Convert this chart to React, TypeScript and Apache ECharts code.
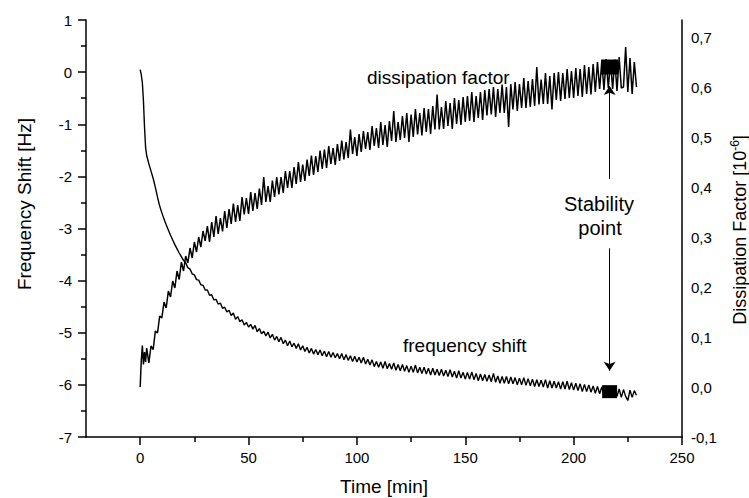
import React, { useEffect, useRef } from 'react';
import * as echarts from 'echarts';

// Sampling times [min]
const timeMin = [
  0, 0.5, 1, 1.5, 2, 2.5, 3,
  4, 5, 6, 7, 8, 9,
  10, 11, 12, 13, 14, 15, 16, 17, 18, 19,
  20, 21, 22, 23, 24, 25, 26, 27, 28, 29,
  30, 31, 32, 33, 34, 35, 36, 37, 38, 39,
  40, 41, 42, 43, 44, 45, 46, 47, 48, 49,
  50, 51, 52, 53, 54, 55, 56, 57, 58, 59,
  60, 61, 62, 63, 64, 65, 66, 67, 68, 69,
  70, 71, 72, 73, 74, 75, 76, 77, 78, 79,
  80, 81, 82, 83, 84, 85, 86, 87, 88, 89,
  90, 91, 92, 93, 94, 95, 96, 97, 98, 99,
  100, 101, 102, 103, 104, 105, 106, 107, 108, 109,
  110, 111, 112, 113, 114, 115, 116, 117, 118, 119,
  120, 121, 122, 123, 124, 125, 126, 127, 128, 129,
  130, 131, 132, 133, 134, 135, 136, 137, 138, 139,
  140, 141, 142, 143, 144, 145, 146, 147, 148, 149,
  150, 151, 152, 153, 154, 155, 156, 157, 158, 159,
  160, 161, 162, 163, 164, 165, 166, 167, 168, 169,
  170, 171, 172, 173, 174, 175, 176, 177, 178, 179,
  180, 181, 182, 183, 184, 185, 186, 187, 188, 189,
  190, 191, 192, 193, 194, 195, 196, 197, 198, 199,
  200, 201, 202, 203, 204, 205, 206, 207, 208, 209,
  210, 211, 212, 213, 214, 215, 216, 217, 218, 219,
  220, 221, 222, 223, 224, 225, 226, 227, 228, 229,
];

// Frequency shift [Hz] (left axis)
const frequencyShift = [
  0.05, -0.05, -0.20, -0.55, -1.05, -1.45, -1.60,
  -1.76, -1.90, -2.04, -2.21, -2.40, -2.57,
  -2.70, -2.82, -2.93, -3.03, -3.13, -3.22, -3.31, -3.39, -3.47, -3.54,
  -3.61, -3.66, -3.75, -3.78, -3.87, -3.89, -3.98, -3.99, -4.08, -4.09,
  -4.18, -4.18, -4.28, -4.27, -4.37, -4.36, -4.45, -4.43, -4.53, -4.51,
  -4.60, -4.57, -4.67, -4.62, -4.74, -4.69, -4.79, -4.75, -4.85, -4.80,
  -4.89, -4.84, -4.93, -4.86, -4.98, -4.92, -5.02, -4.97, -5.06, -4.99,
  -5.10, -5.03, -5.14, -5.07, -5.17, -5.09, -5.21, -5.14, -5.25, -5.16,
  -5.27, -5.20, -5.30, -5.21, -5.33, -5.25, -5.36, -5.28, -5.39, -5.30,
  -5.41, -5.32, -5.42, -5.33, -5.44, -5.35, -5.46, -5.36, -5.47, -5.38,
  -5.48, -5.40, -5.50, -5.40, -5.52, -5.42, -5.53, -5.44, -5.55, -5.45,
  -5.56, -5.47, -5.58, -5.47, -5.60, -5.51, -5.62, -5.52, -5.65, -5.55,
  -5.66, -5.56, -5.68, -5.55, -5.69, -5.59, -5.70, -5.58, -5.72, -5.61,
  -5.73, -5.61, -5.74, -5.63, -5.76, -5.64, -5.76, -5.62, -5.77, -5.66,
  -5.78, -5.66, -5.79, -5.68, -5.81, -5.68, -5.81, -5.70, -5.82, -5.70,
  -5.83, -5.72, -5.84, -5.71, -5.85, -5.74, -5.87, -5.73, -5.87, -5.76,
  -5.89, -5.76, -5.89, -5.75, -5.90, -5.78, -5.92, -5.79, -5.92, -5.80,
  -5.93, -5.81, -5.94, -5.78, -5.95, -5.83, -5.97, -5.84, -5.97, -5.84,
  -5.98, -5.85, -5.98, -5.86, -6.00, -5.87, -6.00, -5.86, -6.01, -5.88,
  -6.02, -5.89, -6.03, -5.90, -6.03, -5.91, -6.04, -5.90, -6.06, -5.92,
  -6.06, -5.93, -6.06, -5.94, -6.08, -5.94, -6.08, -5.93, -6.09, -5.96,
  -6.10, -5.97, -6.11, -5.98, -6.13, -5.99, -6.13, -6.00, -6.14, -6.02,
  -6.16, -6.03, -6.17, -6.04, -6.18, -6.05, -6.19, -6.06, -6.21, -6.07,
  -6.22, -6.08, -6.24, -6.09, -6.22, -6.30, -6.10, -6.24, -6.11, -6.20,
];

// Dissipation factor [1e-6] (right axis)
const dissipationFactor = [
  0.000, 0.052, 0.083, 0.045, 0.070, 0.050, 0.078,
  0.048, 0.082, 0.075, 0.112, 0.108, 0.142,
  0.138, 0.170, 0.158, 0.192, 0.180, 0.212, 0.198, 0.232, 0.215, 0.250,
  0.232, 0.262, 0.248, 0.278, 0.258, 0.290, 0.270, 0.300, 0.280, 0.312,
  0.292, 0.322, 0.290, 0.330, 0.300, 0.342, 0.306, 0.338, 0.311, 0.352,
  0.318, 0.356, 0.326, 0.367, 0.330, 0.364, 0.332, 0.380, 0.345, 0.378,
  0.346, 0.390, 0.352, 0.388, 0.356, 0.397, 0.364, 0.420, 0.370, 0.402,
  0.370, 0.413, 0.380, 0.420, 0.385, 0.420, 0.388, 0.432, 0.398, 0.432,
  0.398, 0.440, 0.406, 0.450, 0.410, 0.445, 0.412, 0.455, 0.422, 0.463,
  0.424, 0.462, 0.430, 0.473, 0.436, 0.475, 0.438, 0.482, 0.446, 0.478,
  0.444, 0.486, 0.452, 0.493, 0.455, 0.490, 0.458, 0.515, 0.466, 0.500,
  0.462, 0.506, 0.470, 0.512, 0.476, 0.510, 0.474, 0.522, 0.482, 0.518,
  0.478, 0.530, 0.484, 0.524, 0.480, 0.532, 0.492, 0.552, 0.490, 0.530,
  0.494, 0.542, 0.498, 0.548, 0.490, 0.545, 0.500, 0.556, 0.505, 0.548,
  0.503, 0.558, 0.510, 0.556, 0.506, 0.562, 0.515, 0.585, 0.515, 0.560,
  0.516, 0.572, 0.522, 0.568, 0.516, 0.578, 0.526, 0.574, 0.524, 0.580,
  0.530, 0.582, 0.532, 0.590, 0.530, 0.582, 0.538, 0.590, 0.534, 0.594,
  0.543, 0.596, 0.545, 0.600, 0.540, 0.596, 0.548, 0.605, 0.548, 0.600,
  0.520, 0.606, 0.555, 0.610, 0.552, 0.606, 0.558, 0.618, 0.558, 0.612,
  0.560, 0.616, 0.562, 0.640, 0.565, 0.615, 0.566, 0.628, 0.566, 0.622,
  0.555, 0.628, 0.574, 0.630, 0.572, 0.628, 0.576, 0.636, 0.578, 0.632,
  0.578, 0.638, 0.582, 0.636, 0.580, 0.644, 0.586, 0.640, 0.585, 0.646,
  0.590, 0.650, 0.596, 0.652, 0.594, 0.656, 0.598, 0.652, 0.596, 0.655,
  0.592, 0.660, 0.598, 0.600, 0.680, 0.590, 0.658, 0.586, 0.650, 0.600,
];

const xTickValues = [0, 50, 100, 150, 200, 250];
const xMinorTickValues = [25, 75, 125, 175, 225];
const rightTickValues = [-0.1, 0, 0.1, 0.2, 0.3, 0.4, 0.5, 0.6, 0.7];

const stabilityTime = 216.6;
const stabilityFreq = -6.13;
const stabilityDiss = 0.64;
const arrowUpDiss = [0.416, 0.602];
const arrowDownFreq = [-3.38, -5.73];

export default function App() {
  const ref = useRef<HTMLDivElement>(null);

  useEffect(() => {
    if (!ref.current) return;
    const chart = echarts.init(ref.current, null, { renderer: 'svg' });
    const n = Math.min(timeMin.length, frequencyShift.length, dissipationFactor.length);
    const freqData: number[][] = [];
    const dissData: number[][] = [];
    for (let i = 0; i < n; i++) {
      freqData.push([timeMin[i], frequencyShift[i]]);
      dissData.push([timeMin[i], dissipationFactor[i]]);
    }
    const font = '"Liberation Sans", Arial, sans-serif';
    const black = '#000';
    const axisLineStyle = { color: black, width: 1.5 };

    chart.setOption({
      animation: false,
      grid: { left: 86, right: 67, top: 20, bottom: 61 },
      xAxis: [
        {
          type: 'value', min: -25, max: 250, position: 'bottom',
          axisLine: { show: true, onZero: false, lineStyle: axisLineStyle },
          axisTick: { show: true, customValues: xTickValues, length: 8, lineStyle: axisLineStyle },
          axisLabel: {
            customValues: xTickValues, color: black, fontSize: 15, fontFamily: font, margin: 13,
            formatter: (v: number) => String(v),
          },
          splitLine: { show: false },
        },
        {
          type: 'value', min: -25, max: 250, position: 'bottom',
          axisLine: { show: false, onZero: false },
          axisTick: { show: true, customValues: xMinorTickValues, length: 5, lineStyle: axisLineStyle },
          axisLabel: { show: false },
          splitLine: { show: false },
        },
      ],
      yAxis: [
        {
          type: 'value', min: -7, max: 1, interval: 1, position: 'left',
          axisLine: { show: true, onZero: false, lineStyle: axisLineStyle },
          axisTick: { show: true, length: 8, lineStyle: axisLineStyle },
          minorTick: { show: true, splitNumber: 2, length: 5, lineStyle: axisLineStyle },
          axisLabel: { color: black, fontSize: 15, fontFamily: font, margin: 14 },
          splitLine: { show: false },
          minorSplitLine: { show: false },
        },
        {
          type: 'value', min: -0.1, max: 0.734, position: 'right',
          axisLine: { show: true, onZero: false, lineStyle: axisLineStyle },
          axisTick: { show: false },
          axisLabel: {
            customValues: rightTickValues, color: black, fontSize: 15, fontFamily: font, margin: 9,
            formatter: (v: number) => v.toFixed(1).replace('.', ','),
          },
          splitLine: { show: false },
        },
      ],
      series: [
        {
          type: 'line', name: 'frequency shift', xAxisIndex: 0, yAxisIndex: 0,
          data: freqData, showSymbol: false, symbol: 'none', silent: true,
          lineStyle: { color: black, width: 1.4 },
          markLine: {
            silent: true, symbol: ['none', 'arrow'], symbolSize: 9,
            label: { show: false },
            lineStyle: { color: black, width: 1, type: 'solid' },
            data: [[{ coord: [stabilityTime, arrowDownFreq[0]] }, { coord: [stabilityTime, arrowDownFreq[1]] }]],
          },
        },
        {
          type: 'line', name: 'dissipation factor', xAxisIndex: 0, yAxisIndex: 1,
          data: dissData, showSymbol: false, symbol: 'none', silent: true,
          lineStyle: { color: black, width: 1.5 },
          markLine: {
            silent: true, symbol: ['none', 'arrow'], symbolSize: 9,
            label: { show: false },
            lineStyle: { color: black, width: 1, type: 'solid' },
            data: [[{ coord: [stabilityTime, arrowUpDiss[0]] }, { coord: [stabilityTime, arrowUpDiss[1]] }]],
          },
        },
        {
          type: 'scatter', xAxisIndex: 0, yAxisIndex: 0, z: 10, silent: true,
          data: [[stabilityTime, stabilityFreq]], symbol: 'rect', symbolSize: [15, 13],
          itemStyle: { color: black, opacity: 1 },
        },
        {
          type: 'scatter', xAxisIndex: 0, yAxisIndex: 1, z: 10, silent: true,
          data: [[stabilityTime, stabilityDiss]], symbol: 'rect', symbolSize: [17, 15],
          itemStyle: { color: black, opacity: 1 },
        },
      ],
      graphic: [
        {
          type: 'text', x: 24, y: 204, rotation: Math.PI / 2, silent: true,
          style: { text: 'Frequency Shift [Hz]', fontSize: 19, fontFamily: font, fill: black, align: 'center', verticalAlign: 'middle' },
        },
        {
          type: 'text', x: 740, y: 230, rotation: Math.PI / 2, silent: true,
          style: {
            text: 'Dissipation Factor [10{sup|-6}]', fontSize: 18, fontFamily: font, fill: black,
            align: 'center', verticalAlign: 'middle', lineHeight: 22,
            rich: { sup: { fontSize: 12, fontFamily: font, fill: black, verticalAlign: 'top', lineHeight: 12 } },
          },
        },
        {
          type: 'text', x: 384, y: 486, silent: true,
          style: { text: 'Time [min]', fontSize: 19, fontFamily: font, fill: black, align: 'center', verticalAlign: 'middle' },
        },
        {
          type: 'text', x: 367, y: 77, silent: true,
          style: { text: 'dissipation factor', fontSize: 19, fontFamily: font, fill: black, align: 'left', verticalAlign: 'middle' },
        },
        {
          type: 'text', x: 403, y: 345, silent: true,
          style: { text: 'frequency shift', fontSize: 19, fontFamily: font, fill: black, align: 'left', verticalAlign: 'middle' },
        },
        {
          type: 'text', x: 599, y: 204, silent: true,
          style: { text: 'Stability', fontSize: 20, fontFamily: font, fill: black, align: 'center', verticalAlign: 'middle' },
        },
        {
          type: 'text', x: 600, y: 228, silent: true,
          style: { text: 'point', fontSize: 20, fontFamily: font, fill: black, align: 'center', verticalAlign: 'middle' },
        },
      ],
    });

    return () => chart.dispose();
  }, []);

  return (
    <div
      ref={ref}
      style={{ position: 'absolute', left: 0, top: 0, width: 749, height: 498, background: '#fff' }}
    />
  );
}
